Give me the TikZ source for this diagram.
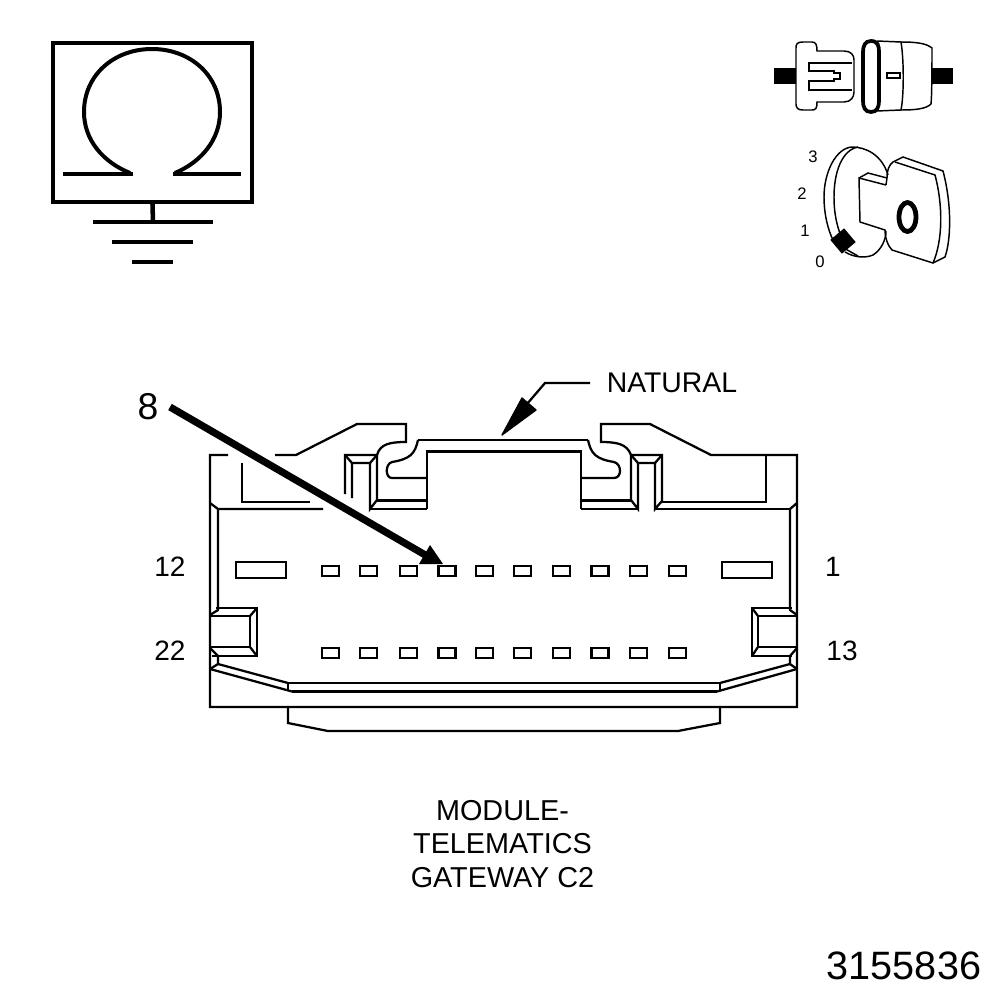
\documentclass[tikz,border=0pt]{standalone}
\usepackage{fontspec}
\setmainfont{Liberation Sans}
\tikzset{
  x=0.75pt, y=-0.75pt,
  wire/.style={line width=1.7pt, line join=miter},
  thin wire/.style={line width=1.1pt},
  heavy wire/.style={line width=2.2pt},
  ground wire/.style={line width=3.4pt},
  pin/.style={draw, line width=1.8pt, minimum width=13pt, minimum height=7.5pt, inner sep=0pt},
  big pin/.style={draw, line width=1.8pt, minimum width=37.5pt, minimum height=12pt, inner sep=0pt},
  pin label/.style={font=\fontsize{21}{21}\selectfont, inner sep=0pt},
  key label/.style={font=\fontsize{12.5}{12.5}\selectfont, inner sep=0pt},
  caption/.style={font=\fontsize{21.6}{25}\selectfont, inner sep=0pt, align=center}
}
\begin{document}
\begin{tikzpicture}
\useasboundingbox (0,0) rectangle (1008,1000);
% ground symbol
\node[draw, line width=3.3pt, minimum width=149pt, minimum height=119pt, inner sep=0pt] (frame) at (152.5,122.5) {};
\coordinate (gnd) at (153,222);
\draw[ground wire] (frame.south) -- (gnd);
\draw[ground wire] (93,222) -- (213,222);
\draw[ground wire] (112,242) -- (193,242);
\draw[ground wire] (132,262) -- (173,262);
\draw[ground wire] (63,174) -- (133,174) (173,174) -- (241,174);
\draw[line width=3pt] (130,173) .. controls (103,162) and (84,140) .. (84,112)
  .. controls (84,75) and (114,49) .. (152,49)
  .. controls (190,49) and (220,75) .. (220,112)
  .. controls (220,140) and (201,162) .. (175,173);
% connector icon
\fill (774,68) rectangle (796,84);
\fill (932,68) rectangle (953,84);
\draw[thin wire] (803,42) .. controls (797,42) and (796,44) .. (796,48) -- (796,104)
  .. controls (796,108) and (798,110) .. (803,110) -- (812,110)
  .. controls (816,110) and (817,108) .. (817,102) -- (844,102)
  .. controls (851,102) and (854,97) .. (854,92) -- (854,60)
  .. controls (854,55) and (851,51) .. (844,51) -- (817,51)
  .. controls (817,45) and (816,42) .. (812,42) -- cycle;
\draw[thin wire] (852,63) -- (809,63) -- (809,71) -- (834,71) -- (834,73) -- (840,73) -- (840,79) -- (834,79) -- (834,81) -- (809,81) -- (809,90) -- (852,90);
\draw[line width=2.8pt] (871,41) .. controls (878,41) and (879,46) .. (879,52) -- (879,101)
  .. controls (879,107) and (877,112) .. (871,112)
  .. controls (865,112) and (863,107) .. (863,101) -- (863,52)
  .. controls (863,46) and (865,41) .. (871,41) -- cycle;
\draw[thin wire] (877,41) -- (901,42) .. controls (904,60) and (904,95) .. (901,110) -- (877,111);
\draw[thin wire] (901,42) .. controls (915,42) and (926,43) .. (932,48) .. controls (932,60) and (932,95) .. (931,104) .. controls (926,109) and (915,110) .. (901,110);
\draw[thin wire] (887,73) rectangle (900,78);
% key icon
\draw[thin wire] (888,175) .. controls (882,155) and (866,147) .. (852,147)
  .. controls (836,148) and (824,172) .. (824,197)
  .. controls (824,214) and (828,230) .. (833,240);
\draw[thin wire] (858,147) .. controls (842,150) and (834,172) .. (834,197)
  .. controls (834,216) and (838,232) .. (846,247);
\draw[thin wire] (845,252) .. controls (855,258) and (866,258) .. (873,255)
  .. controls (881,250) and (886,240) .. (886,231);
\draw[thin wire] (842,247) -- (858,256);
\draw[thin wire] (886,185) -- (859,178) -- (860,222) -- (885,230)
  .. controls (885,238) and (888,246) .. (892,250) -- (933,263) -- (945,257)
  .. controls (951,240) and (952,205) .. (943,171) -- (903,157) -- (893,162)
  .. controls (889,165) and (887,170) .. (887,178) -- (886,185);
\draw[thin wire] (859,178) -- (868,173) -- (887,178);
\draw[thin wire] (895,162) -- (935,175) .. controls (943,205) and (943,240) .. (933,263);
\fill[rotate around={40:(843,241)}] (834,232) rectangle (852,250);
\draw[line width=3.6pt] (907.5,217) ellipse (8.5 and 14.5);
\node[key label] (k3) at (813,157) {3};
\node[key label] (k2) at (802,194) {2};
\node[key label] (k1) at (805,231) {1};
\node[key label] (k0) at (820,262) {0};
% connector outline, top edge
\draw[wire] (275,455) -- (296,455) -- (357,424) -- (406,424) -- (406,442)
  .. controls (390,442) and (380,444) .. (377,455);
\draw[wire] (228,455) -- (210,455) -- (210,707) -- (797,707) -- (797,455) -- (711,455) -- (650,424) -- (601,424) -- (601,442)
  .. controls (617,442) and (627,444) .. (631,455);
\draw[wire] (242,463) -- (242,502) -- (310,502);
\draw[wire] (766,455) -- (766,502) -- (662,502);
\draw[wire] (210,503) -- (218,509) -- (323,509);
\draw[wire] (218,509) -- (218,610) -- (210,615);
\draw[wire] (797,503) -- (790,509) -- (790,610) -- (797,615);
\draw[wire] (790,509) -- (655,509);
% latch
\draw[wire] (418,440) -- (588,440);
\draw[wire] (418,440) .. controls (415,454) and (410,459) .. (392,462)
  .. controls (385,464) and (385,478) .. (392,478) -- (427,478);
\draw[wire] (588,440) .. controls (591,454) and (596,459) .. (614,462)
  .. controls (622,464) and (622,478) .. (614,478) -- (581,478);
\draw[heavy wire] (427,509) -- (427,451.5) -- (581,451.5) -- (581,509);
\draw[wire] (370,509) -- (427,509) (581,509) -- (638,509);
\draw[heavy wire] (377,500.5) -- (427,500.5) (581,500.5) -- (631,500.5);
% posts
\draw[wire] (345,494) -- (345,455) -- (377,455) -- (377,500) -- (370,509) -- (370,463) -- (352,463) -- (352,498);
\draw[wire] (345,455) -- (352,463) (377,455) -- (370,463);
\draw[wire] (631,500) -- (631,455) -- (662,455) -- (662,501) -- (655,509) -- (655,463) -- (638,463) -- (638,509) -- (631,500);
\draw[wire] (631,455) -- (638,463) (662,455) -- (655,463);
% side blocks
\draw[wire] (216,608) -- (257,608) -- (257,656) -- (212,656);
\draw[heavy wire] (210,616) -- (250,616) -- (250,647) -- (210,647);
\draw[wire] (257,608) -- (250,616) (257,656) -- (250,647);
\draw[wire] (792,608) -- (752,608) -- (752,656) -- (792,656);
\draw[heavy wire] (797,616) -- (758,616) -- (758,647) -- (797,647);
\draw[wire] (752,608) -- (758,616) (752,656) -- (758,647);
% lower rails
\draw[wire] (210,648) -- (218,656) -- (218,664) -- (210,669);
\draw[wire] (797,648) -- (790,656) -- (790,664) -- (797,669);
\draw[wire] (218,664) -- (288,683) (210,669) -- (292,691.5);
\draw[wire] (790,664) -- (720,683) (797,669) -- (717,691.5);
\draw[heavy wire] (288,683) -- (720,683);
\draw[wire] (292,691.5) -- (717,691.5);
\draw[wire] (288,683) -- (288,690) (720,683) -- (720,690);
\draw[heavy wire] (210,707) -- (797,707);
\draw[wire] (288,707) -- (288,723) -- (328,731) -- (678,731) -- (720,723) -- (720,707);
% pins
\foreach \px/\num in {330.5/a, 368.5/b, 408.5/c, 447/d, 484.5/e, 522.5/f, 561.5/g, 600/h, 638.5/i, 677.5/j} {
  \node[pin] (top-\num) at (\px,571) {};
  \node[pin] (bot-\num) at (\px,653) {};
}
\node[big pin] (big-left) at (261,570) {};
\node[big pin] (big-right) at (747,570) {};
\node[pin label] (n12) at (170,567) {12};
\node[pin label] (n22) at (170,651) {22};
\node[pin label] (n1) at (833,567) {1};
\node[pin label] (n13) at (842,651) {13};
% callouts
\node[font=\fontsize{28}{28}\selectfont, inner sep=0pt] (eight) at (148,407) {8};
\coordinate (eight-start) at (170,407);
\coordinate (eight-end) at (427,556);
\draw[line width=5.4pt] (eight-start) -- (eight-end);
\fill (430,545) -- (443,564) -- (419,564) -- cycle;
\node[pin label, font=\fontsize{21.3}{21.3}\selectfont] (natural) at (672,383) {NATURAL};
\coordinate (nat-bend) at (545,383);
\coordinate (nat-end) at (527,404);
\draw[wire] (590,383) -- (nat-bend) -- (nat-end);
\fill[line join=round, draw, line width=1pt] (502,435) -- (522,398) -- (536,410) -- cycle;
% captions
\node[caption] (title) at (502.5,844) {MODULE-\\TELEMATICS\\GATEWAY C2};
\node[font=\fontsize{29.7}{29.7}\selectfont, inner sep=0pt] (partnum) at (904,966) {3155836};
\end{tikzpicture}
\end{document}
